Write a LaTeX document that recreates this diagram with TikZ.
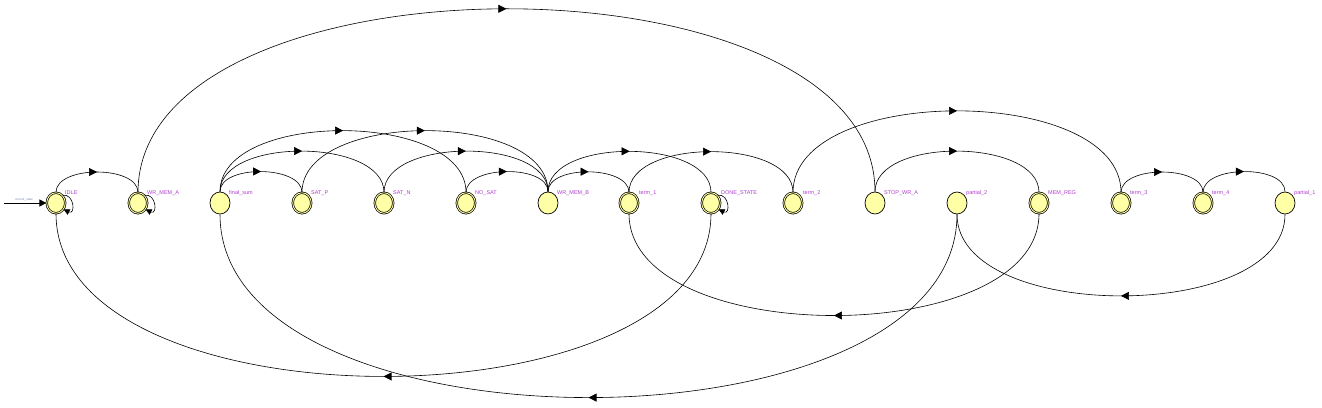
\documentclass[tikz,border=0pt]{standalone}
\usepackage{fontspec}
\setmainfont{Liberation Sans}
\usetikzlibrary{arrows.meta,shapes.geometric,decorations.markings}
\definecolor{nodefill}{RGB}{255,255,165}
\definecolor{lbl}{RGB}{175,60,205}
\definecolor{initlbl}{RGB}{120,130,175}
\tikzset{
 st/.style={ellipse, draw=black, line width=0.7pt, fill=nodefill, minimum width=20pt, minimum height=22pt, inner sep=0pt},
 acc/.style={st, minimum width=18.5pt, minimum height=20.5pt, double=nodefill, double distance=0.9pt},
 lab/.style={font=\fontsize{5.5}{6}\selectfont, text=lbl, anchor=west, inner sep=0pt},
 tr/.style={line width=0.6pt, postaction={decorate}, decoration={markings, mark=at position 0.5 with {\arrow{Triangle[length=8pt,width=8pt]}}}},
 up/.style={tr, out=90, in=90, looseness=0.85},
 dn/.style={tr, out=-90, in=-90, looseness=0.85},
 selfl/.style={line width=0.6pt, -{Triangle[length=6pt,width=6pt]}},
}
\begin{document}
\begin{tikzpicture}[x=1pt,y=1pt]
\useasboundingbox (0,0) rectangle (1322,407);
% states
\node[acc] (IDLE) at (56,204) {};
\node[acc] (WRA) at (138,204) {};
\node[st] (FS) at (220,204) {};
\node[acc] (SATP) at (302,204) {};
\node[acc] (SATN) at (384,204) {};
\node[acc] (NOSAT) at (466,204) {};
\node[st] (WRB) at (548,204) {};
\node[acc] (T1) at (629,204) {};
\node[acc] (DONE) at (711,204) {};
\node[acc] (T2) at (793,204) {};
\node[st] (STOP) at (875,204) {};
\node[st] (P2) at (957,204) {};
\node[acc] (MEM) at (1039,204) {};
\node[acc] (T3) at (1121,204) {};
\node[acc] (T4) at (1203,204) {};
\node[st] (P1) at (1285,204) {};
% labels
\node[lab] (lIDLE) at (65,214) {IDLE};
\node[lab] (lWRA) at (147,214) {WR\_MEM\_A};
\node[lab] (lFS) at (229,214) {final\_sum};
\node[lab] (lSATP) at (311,214) {SAT\_P};
\node[lab] (lSATN) at (393,214) {SAT\_N};
\node[lab] (lNOSAT) at (475,214) {NO\_SAT};
\node[lab] (lWRB) at (557,214) {WR\_MEM\_B};
\node[lab] (lT1) at (639,214) {term\_1};
\node[lab] (lDONE) at (721,214) {DONE\_STATE};
\node[lab] (lT2) at (803,214) {term\_2};
\node[lab] (lSTOP) at (884,214) {STOP\_WR\_A};
\node[lab] (lP2) at (966,214) {partial\_2};
\node[lab] (lMEM) at (1048,214) {MEM\_REG};
\node[lab] (lT3) at (1130,214) {term\_3};
\node[lab] (lT4) at (1212,214) {term\_4};
\node[lab] (lP1) at (1294,214) {partial\_1};
% initial arrow
\coordinate (start) at (4,204);
\draw[line width=0.7pt, -{Triangle[length=7pt,width=7pt]}] (start) -- (IDLE.west);
\node[font=\fontsize{3}{3}\selectfont, text=initlbl, inner sep=0pt] (linit) at (24,207.5) {current\_state};
% top arcs
\draw[up] (IDLE.north) to (WRA.north);
\draw[up] (WRA.north) to (STOP.north);
\draw[up] (FS.north) to (SATP.north);
\draw[up] (FS.north) to (SATN.north);
\draw[up] (FS.north) to (NOSAT.north);
\draw[up] (SATP.north) to (WRB.north);
\draw[up] (SATN.north) to (WRB.north);
\draw[up] (NOSAT.north) to (WRB.north);
\draw[up] (WRB.north) to (T1.north);
\draw[up] (WRB.north) to (DONE.north);
\draw[up] (T1.north) to (T2.north);
\draw[up] (T2.north) to (T3.north);
\draw[up] (STOP.north) to (MEM.north);
\draw[up] (T3.north) to (T4.north);
\draw[up] (T4.north) to (P1.north);
% bottom arcs
\draw[dn] (DONE.south) to (IDLE.south);
\draw[dn] (P2.south) to (FS.south);
\draw[dn] (MEM.south) to (T1.south);
\draw[dn] (P1.south) to (P2.south);
% self loops
\draw[selfl] (IDLE.50) .. controls +(12,2) and +(12,-6) .. (IDLE.-40);
\draw[selfl] (WRA.50) .. controls +(12,2) and +(12,-6) .. (WRA.-40);
\draw[selfl] (DONE.50) .. controls +(12,2) and +(12,-6) .. (DONE.-40);
\end{tikzpicture}
\end{document}
